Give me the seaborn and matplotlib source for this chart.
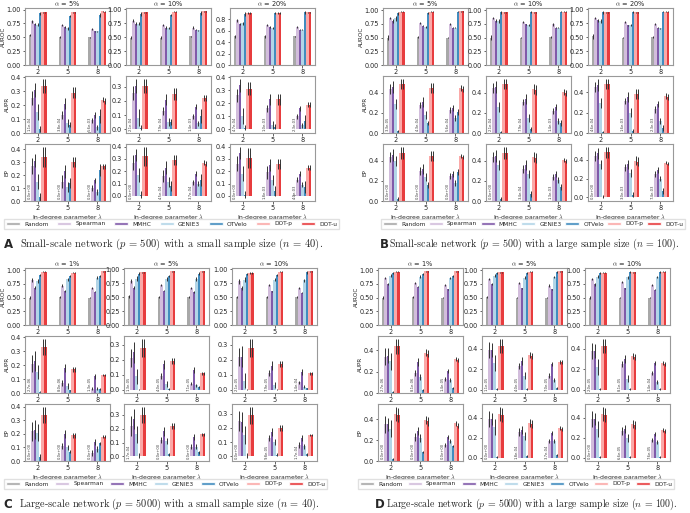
import numpy as np
import pandas as pd
import seaborn as sns
import matplotlib.pyplot as plt
from matplotlib.patches import Patch
from matplotlib.ticker import MaxNLocator
from matplotlib.transforms import blended_transform_factory

# methods, lambdas and colours
methods = ["Random", "Spearman", "MMHC", "GENIE3", "OTVelo", "DOT-p", "DOT-u"]
colors = ["#999999", "#cab2d6", "#6a3d9a", "#a6cee3", "#1f78b4", "#fb9a99", "#e31a1c"]
lambdas = ["2", "5", "8"]
metrics = ["AUROC", "AUPR", "EP"]

# values: [alpha][lambda][method]
A_auroc = [[[0.54, 0.79, 0.74, 0.73, 0.93, 0.95, 0.95], [0.50, 0.72, 0.68, 0.66, 0.88, 0.95, 0.95], [0.50, 0.65, 0.61, 0.61, 0.90, 0.97, 0.96]],
           [[0.49, 0.79, 0.74, 0.74, 0.91, 0.94, 0.94], [0.49, 0.72, 0.67, 0.66, 0.90, 0.95, 0.95], [0.51, 0.67, 0.63, 0.62, 0.93, 0.96, 0.96]],
           [[0.50, 0.78, 0.72, 0.73, 0.89, 0.91, 0.91], [0.50, 0.70, 0.67, 0.65, 0.91, 0.91, 0.91], [0.50, 0.66, 0.62, 0.62, 0.92, 0.92, 0.92]]]
A_aupr = [[[1.1e-4, 0.25, 0.31, 0.15, 0.03, 0.34, 0.34], [3.8e-4, 0.13, 0.21, 0.07, 0.06, 0.29, 0.29], [5.6e-3, 0.09, 0.13, 0.04, 0.12, 0.24, 0.23]],
          [[2.1e-4, 0.26, 0.31, 0.08, 0.01, 0.31, 0.31], [7.9e-4, 0.13, 0.21, 0.05, 0.05, 0.25, 0.25], [1.4e-3, 0.09, 0.16, 0.04, 0.09, 0.22, 0.22]],
          [[4.7e-4, 0.26, 0.34, 0.10, 0.01, 0.31, 0.31], [1.0e-3, 0.16, 0.23, 0.03, 0.02, 0.23, 0.23], [2.3e-3, 0.10, 0.16, 0.03, 0.06, 0.19, 0.19]]]
A_ep = [[[0, 0.27, 0.31, 0.15, 0.03, 0.34, 0.34], [0, 0.15, 0.23, 0.11, 0.14, 0.30, 0.30], [0, 0.10, 0.16, 0.07, 0.24, 0.27, 0.27]],
        [[0, 0.27, 0.33, 0.17, 0.01, 0.32, 0.32], [4.5e-4, 0.16, 0.23, 0.11, 0.08, 0.29, 0.29], [3.7e-4, 0.11, 0.18, 0.10, 0.13, 0.27, 0.26]],
        [[0, 0.26, 0.35, 0.18, 0.01, 0.31, 0.31], [1.8e-3, 0.19, 0.25, 0.13, 0.04, 0.26, 0.26], [4.0e-3, 0.13, 0.18, 0.09, 0.07, 0.23, 0.23]]]

B_auroc = [[[0.50, 0.85, 0.80, 0.85, 0.94, 0.97, 0.97], [0.51, 0.77, 0.72, 0.70, 0.95, 0.97, 0.97], [0.50, 0.75, 0.68, 0.68, 0.97, 0.98, 0.98]],
           [[0.50, 0.85, 0.81, 0.80, 0.96, 0.96, 0.96], [0.50, 0.78, 0.74, 0.73, 0.97, 0.96, 0.96], [0.51, 0.74, 0.68, 0.68, 0.97, 0.97, 0.97]],
           [[0.51, 0.84, 0.80, 0.79, 0.94, 0.94, 0.94], [0.49, 0.77, 0.71, 0.71, 0.95, 0.94, 0.94], [0.50, 0.73, 0.67, 0.66, 0.95, 0.95, 0.95]]]
B_aupr = [[[3.3e-5, 0.44, 0.46, 0.29, 0.02, 0.49, 0.49], [4.3e-4, 0.28, 0.31, 0.18, 0.10, 0.45, 0.45], [5.6e-4, 0.23, 0.25, 0.15, 0.21, 0.45, 0.44]],
          [[2.1e-4, 0.45, 0.46, 0.26, 0.01, 0.49, 0.49], [7.9e-4, 0.31, 0.34, 0.15, 0.04, 0.44, 0.43], [1.4e-3, 0.22, 0.26, 0.12, 0.10, 0.41, 0.40]],
          [[4.6e-4, 0.45, 0.47, 0.29, 0.01, 0.48, 0.48], [1.6e-3, 0.31, 0.35, 0.20, 0.02, 0.38, 0.38], [2.3e-3, 0.23, 0.28, 0.12, 0.05, 0.36, 0.35]]]
B_ep = [[[0, 0.44, 0.46, 0.40, 0.02, 0.48, 0.48], [0, 0.30, 0.32, 0.24, 0.16, 0.45, 0.45], [0, 0.25, 0.27, 0.18, 0.29, 0.45, 0.44]],
        [[0, 0.44, 0.45, 0.36, 0.02, 0.48, 0.48], [3.4e-4, 0.32, 0.36, 0.27, 0.07, 0.44, 0.43], [1.3e-3, 0.24, 0.27, 0.21, 0.14, 0.41, 0.40]],
        [[0, 0.44, 0.47, 0.35, 0.01, 0.48, 0.48], [3.0e-3, 0.32, 0.35, 0.26, 0.03, 0.39, 0.38], [7.4e-3, 0.25, 0.29, 0.20, 0.07, 0.37, 0.36]]]

C_auroc = [[[0.50, 0.82, 0.68, 0.80, 0.91, 0.97, 0.97], [0.51, 0.72, 0.62, 0.83, 0.89, 0.95, 0.95], [0.50, 0.67, 0.61, 0.86, 0.90, 0.98, 0.98]],
           [[0.51, 0.79, 0.67, 0.83, 0.92, 0.94, 0.94], [0.50, 0.71, 0.61, 0.82, 0.88, 0.96, 0.96], [0.50, 0.66, 0.59, 0.82, 0.92, 0.96, 0.96]],
           [[0.50, 0.78, 0.66, 0.81, 0.91, 0.93, 0.93], [0.50, 0.71, 0.60, 0.81, 0.89, 0.95, 0.95], [0.50, 0.66, 0.58, 0.80, 0.94, 0.96, 0.96]]]
C_aupr = [[[2.7e-6, 0.21, 0.23, 0.15, 0.01, 0.33, 0.33], [8.0e-6, 0.07, 0.18, 0.05, 0.02, 0.17, 0.17], [1.3e-5, 0.03, 0.12, 0.03, 0.03, 0.13, 0.13]],
          [[1.3e-5, 0.21, 0.25, 0.09, 0.002, 0.28, 0.28], [4.0e-5, 0.09, 0.17, 0.04, 0.005, 0.19, 0.19], [7.1e-5, 0.04, 0.13, 0.03, 0.02, 0.11, 0.11]],
          [[2.1e-5, 0.22, 0.22, 0.06, 0.002, 0.28, 0.28], [7.9e-5, 0.11, 0.16, 0.03, 0.003, 0.17, 0.17], [1.4e-4, 0.05, 0.12, 0.02, 0.01, 0.11, 0.11]]]
C_ep = [[[0, 0.22, 0.23, 0.21, 0.03, 0.34, 0.34], [0, 0.11, 0.20, 0.10, 0.07, 0.19, 0.19], [0, 0.06, 0.14, 0.09, 0.13, 0.18, 0.18]],
        [[1.7e-4, 0.22, 0.27, 0.16, 0.005, 0.30, 0.30], [0, 0.12, 0.18, 0.11, 0.015, 0.22, 0.22], [0, 0.07, 0.14, 0.07, 0.03, 0.16, 0.16]],
        [[0, 0.25, 0.24, 0.15, 0.005, 0.29, 0.29], [9.8e-5, 0.13, 0.17, 0.10, 0.01, 0.20, 0.20], [1.7e-4, 0.08, 0.13, 0.07, 0.015, 0.15, 0.15]]]

D_auroc = [[[0.50, 0.85, 0.75, 0.90, 0.95, 0.97, 0.97], [0.51, 0.77, 0.70, 0.88, 0.93, 0.98, 0.98], [0.50, 0.73, 0.65, 0.85, 0.90, 0.98, 0.98]],
           [[0.51, 0.84, 0.75, 0.90, 0.95, 0.96, 0.96], [0.50, 0.77, 0.67, 0.86, 0.95, 0.97, 0.97], [0.50, 0.72, 0.65, 0.88, 0.97, 0.98, 0.98]],
           [[0.50, 0.84, 0.74, 0.88, 0.95, 0.95, 0.95], [0.50, 0.78, 0.67, 0.87, 0.96, 0.96, 0.96], [0.50, 0.73, 0.64, 0.88, 0.97, 0.97, 0.97]]]
D_aupr = [[[2.7e-6, 0.34, 0.35, 0.30, 0.01, 0.44, 0.44], [8.1e-6, 0.19, 0.29, 0.15, 0.03, 0.38, 0.37], [1.4e-5, 0.13, 0.21, 0.12, 0.05, 0.32, 0.31]],
          [[1.1e-5, 0.39, 0.39, 0.26, 0.005, 0.43, 0.43], [4.0e-5, 0.23, 0.28, 0.14, 0.01, 0.34, 0.33], [7.0e-5, 0.14, 0.25, 0.10, 0.02, 0.27, 0.27]],
          [[2.0e-5, 0.38, 0.38, 0.22, 0.004, 0.43, 0.43], [8.1e-5, 0.25, 0.30, 0.11, 0.01, 0.33, 0.32], [1.4e-4, 0.16, 0.26, 0.08, 0.01, 0.26, 0.25]]]
D_ep = [[[0, 0.35, 0.35, 0.31, 0.02, 0.45, 0.44], [0, 0.23, 0.29, 0.22, 0.09, 0.39, 0.38], [0, 0.15, 0.23, 0.19, 0.14, 0.36, 0.34]],
        [[0, 0.39, 0.39, 0.31, 0.005, 0.44, 0.43], [1.8e-4, 0.26, 0.28, 0.22, 0.015, 0.35, 0.34], [3.7e-4, 0.17, 0.25, 0.17, 0.025, 0.30, 0.29]],
        [[0, 0.39, 0.39, 0.29, 0.005, 0.44, 0.43], [6.6e-5, 0.27, 0.29, 0.20, 0.01, 0.34, 0.33], [7.6e-5, 0.18, 0.24, 0.16, 0.01, 0.28, 0.27]]]

# error bars: [lambda][method], shared across alpha
A_auroc_err = [[0.02, 0.03, 0.02, 0.03, 0.03, 0.01, 0.01], [0.02, 0.02, 0.02, 0.02, 0.02, 0.01, 0.01], [0.01, 0.02, 0.01, 0.01, 0.03, 0.01, 0.01]]
A_aupr_err = [[0, 0.05, 0.05, 0.06, 0.02, 0.05, 0.05], [0, 0.03, 0.04, 0.03, 0.02, 0.04, 0.04], [0, 0.02, 0.02, 0.02, 0.05, 0.02, 0.02]]
A_ep_err = [[0, 0.06, 0.05, 0.06, 0.03, 0.08, 0.08], [0, 0.05, 0.05, 0.04, 0.04, 0.04, 0.04], [0, 0.02, 0.02, 0.02, 0.05, 0.02, 0.02]]
B_auroc_err = [[0.04, 0.02, 0.03, 0.04, 0.03, 0.01, 0.01], [0.01, 0.02, 0.01, 0.02, 0.02, 0.01, 0.01], [0.01, 0.02, 0.01, 0.01, 0.01, 0.01, 0.01]]
B_aupr_err = [[0, 0.05, 0.06, 0.05, 0.01, 0.05, 0.05], [0, 0.03, 0.05, 0.04, 0.02, 0.05, 0.05], [0, 0.03, 0.03, 0.03, 0.03, 0.03, 0.03]]
B_ep_err = [[0, 0.05, 0.06, 0.05, 0.02, 0.06, 0.06], [0, 0.04, 0.05, 0.04, 0.03, 0.05, 0.05], [0, 0.03, 0.03, 0.03, 0.03, 0.02, 0.02]]
C_auroc_err = [[0.02, 0.04, 0.03, 0.04, 0.02, 0.01, 0.01], [0.01, 0.02, 0.01, 0.03, 0.02, 0.01, 0.01], [0.01, 0.02, 0.01, 0.03, 0.02, 0.01, 0.01]]
C_aupr_err = [[0, 0.06, 0.07, 0.05, 0.005, 0.06, 0.06], [0, 0.02, 0.03, 0.02, 0.005, 0.02, 0.02], [0, 0.01, 0.02, 0.01, 0.005, 0.01, 0.01]]
C_ep_err = [[0, 0.07, 0.07, 0.06, 0.02, 0.06, 0.06], [0, 0.02, 0.03, 0.02, 0.01, 0.02, 0.02], [0, 0.02, 0.02, 0.02, 0.01, 0.01, 0.01]]
D_auroc_err = [[0.02, 0.02, 0.02, 0.03, 0.02, 0.01, 0.01], [0.01, 0.02, 0.01, 0.03, 0.02, 0.01, 0.01], [0.01, 0.02, 0.01, 0.02, 0.02, 0.01, 0.01]]
D_aupr_err = [[0, 0.08, 0.07, 0.08, 0.01, 0.07, 0.07], [0, 0.03, 0.04, 0.03, 0.01, 0.03, 0.03], [0, 0.02, 0.02, 0.02, 0.01, 0.02, 0.02]]
D_ep_err = [[0, 0.08, 0.06, 0.08, 0.01, 0.07, 0.07], [0, 0.04, 0.04, 0.04, 0.01, 0.04, 0.04], [0, 0.02, 0.02, 0.02, 0.01, 0.02, 0.02]]

alphas_AB = ["5%", "10%", "20%"]
alphas_CD = ["1%", "5%", "10%"]

captions = {
    "A": "Small-scale network ($p$ = 500) with a small sample size ($n$ = 40).",
    "B": "Small-scale network ($p$ = 500) with a large sample size ($n$ = 100).",
    "C": "Large-scale network ($p$ = 5000) with a small sample size ($n$ = 40).",
    "D": "Large-scale network ($p$ = 5000) with a large sample size ($n$ = 100).",
}

sns.set_theme(style="ticks")
plt.rcParams["font.family"] = ["DejaVu Sans"]
plt.rcParams["mathtext.fontset"] = "cm"

W, H = 690, 513
fig = plt.figure(figsize=(6.9, 5.13), dpi=100)


def px_axes(left, top, w, h):
    return fig.add_axes([left / W, 1 - (top + h) / H, w / W, h / H])


row_tops = [8, 76, 144]
row_h = [57, 57, 57]

# name, x/y offset, axes lefts, alphas, data, errors, legend span, caption x (letter, text), caption size
panels = [
    ("A", 0, 0, [25, 126, 230], alphas_AB, [A_auroc, A_aupr, A_ep], [A_auroc_err, A_aupr_err, A_ep_err], (1, 342), 4, 20, 7.6),
    ("B", 345, 0, [38, 141, 243], alphas_AB, [B_auroc, B_aupr, B_ep], [B_auroc_err, B_aupr_err, B_ep_err], (33, 343), 35, 44, 7.2),
    ("C", 0, 260, [25, 124, 232], alphas_CD, [C_auroc, C_aupr, C_ep], [C_auroc_err, C_aupr_err, C_ep_err], (1, 330), 3, 19, 7.4),
    ("D", 345, 260, [33, 137, 240], alphas_CD, [D_auroc, D_aupr, D_ep], [D_auroc_err, D_aupr_err, D_ep_err], (10, 332), 30, 41, 7.1),
]

for name, ox, oy, col_left, alphas, data, errs, leg_x, cap_lx, cap_tx, cap_fs in panels:
    for r, metric in enumerate(metrics):
        for c, alpha in enumerate(alphas):
            ax = px_axes(ox + col_left[c], oy + row_tops[r], 85, row_h[r])
            vals = np.array(data[r][c])
            df = pd.DataFrame({
                "lam": np.repeat(lambdas, len(methods)),
                "method": methods * len(lambdas),
                "value": vals.ravel(),
            })
            sns.barplot(data=df, x="lam", y="value", hue="method", order=lambdas,
                        hue_order=methods, palette=colors, width=0.6, errorbar=None,
                        legend=False, ax=ax, alpha=0.85, saturation=1, linewidth=0)
            bar_groups = list(ax.containers)
            err = np.array(errs[r])
            for j, cont in enumerate(bar_groups):
                xs = [b.get_x() + b.get_width() / 2 for b in cont]
                ys = [b.get_height() for b in cont]
                ax.errorbar(xs, ys, yerr=err[:, j], fmt="none", ecolor="0.2",
                            elinewidth=0.7, capsize=0)
            if metric != "AUROC":
                # the random baseline is too small to see, so print its value
                trans = blended_transform_factory(ax.transData, ax.transAxes)
                for i, b in enumerate(bar_groups[0]):
                    ax.text(b.get_x() + b.get_width() / 2, 0.03, f"{vals[i, 0]:.1e}",
                            rotation=90, fontsize=2.7, ha="center", va="bottom",
                            color="0.25", transform=trans)
            ax.set_xlim(-0.42, 2.42)
            ax.yaxis.set_major_locator(MaxNLocator(nbins=5, steps=[1, 2, 2.5, 5, 10]))
            ax.tick_params(labelsize=4.7, length=1.8, width=0.5, pad=1.1)
            for sp in ax.spines.values():
                sp.set_color("0.6")
                sp.set_linewidth(0.8)
            ax.set_xlabel("")
            ax.set_ylabel("")
            if c == 0:
                ax.set_ylabel(metric, fontsize=4.1, labelpad=0.8)
            if r == 0:
                ax.set_title(r"$\alpha$ = " + alpha, fontsize=4.8, pad=1.5)
            if r == 2:
                ax.set_xlabel(r"In-degree parameter $\lambda$", fontsize=4.4, labelpad=0.5)

    handles = [Patch(facecolor=col, alpha=0.85, label=m) for m, col in zip(methods, colors)]
    x0, x1 = leg_x
    fig.legend(handles=handles, loc="center", ncol=7, mode="expand",
               bbox_to_anchor=((ox + x0) / W, 1 - (oy + 229) / H, (x1 - x0) / W, 10 / H),
               fontsize=4.2, frameon=True, handlelength=2.4, handleheight=0.55,
               borderpad=0.35, columnspacing=1.0, handletextpad=0.7, fancybox=False,
               edgecolor="0.85")
    fig.text((ox + cap_lx) / W, 1 - (oy + 244) / H, name, fontsize=8.5,
             fontweight="bold", va="center", ha="left")
    fig.text((ox + cap_tx) / W, 1 - (oy + 244) / H, captions[name], fontsize=cap_fs,
             family="cmr10", va="center", ha="left")

fig.savefig("out.png", dpi=100)
